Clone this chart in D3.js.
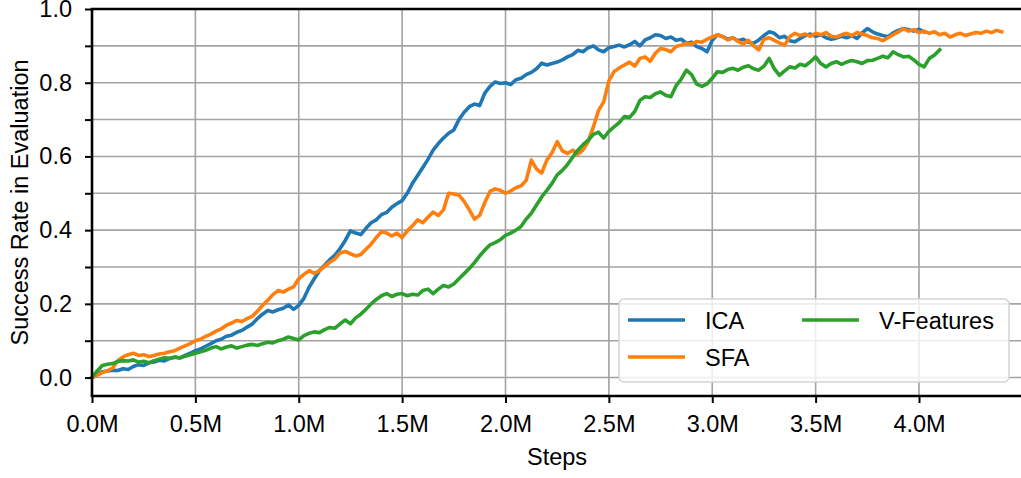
<!DOCTYPE html>
<html>
<head>
<meta charset="utf-8">
<script src="https://cdn.jsdelivr.net/npm/d3@7"></script>
<style>
  html, body { margin: 0; padding: 0; background: #fff; }
  svg { display: block; font-family: "Liberation Sans", Arial, Helvetica, sans-serif; }
</style>
</head>
<body>
<svg id="chart" width="1021" height="478"></svg>
<script>
// Evaluation logged every 25k environment steps
const logInterval = 25000;

const seriesNames = ["ICA", "SFA", "V-Features"];
const seriesColors = ["#1f77b4", "#ff7f0e", "#2ca02c"];

const icaValues = [
  0.000, 0.008, 0.016, 0.018, 0.020, 0.019, 0.024, 0.022, 0.030, 0.035,
  0.033, 0.040, 0.042, 0.047, 0.045, 0.052, 0.055, 0.053, 0.060, 0.066,
  0.073, 0.078, 0.085, 0.092, 0.100, 0.104, 0.112, 0.115, 0.123, 0.128,
  0.137, 0.145, 0.160, 0.172, 0.182, 0.178, 0.184, 0.188, 0.197, 0.185,
  0.196, 0.215, 0.245, 0.268, 0.290, 0.305, 0.320, 0.332, 0.350, 0.372,
  0.398, 0.392, 0.388, 0.405, 0.420, 0.428, 0.442, 0.448, 0.462, 0.472,
  0.480, 0.500, 0.527, 0.548, 0.570, 0.592, 0.617, 0.635, 0.650, 0.663,
  0.672, 0.700, 0.720, 0.735, 0.742, 0.738, 0.772, 0.790, 0.802, 0.798,
  0.800, 0.795, 0.808, 0.812, 0.822, 0.828, 0.838, 0.853, 0.848, 0.852,
  0.856, 0.862, 0.870, 0.876, 0.888, 0.884, 0.895, 0.900, 0.889, 0.884,
  0.895, 0.898, 0.902, 0.897, 0.903, 0.912, 0.900, 0.916, 0.922, 0.930,
  0.928, 0.920, 0.924, 0.915, 0.918, 0.907, 0.910, 0.898, 0.893, 0.884,
  0.915, 0.930, 0.925, 0.918, 0.922, 0.914, 0.918, 0.910, 0.907, 0.916,
  0.928, 0.938, 0.934, 0.922, 0.926, 0.914, 0.911, 0.920, 0.928, 0.932,
  0.926, 0.930, 0.922, 0.918, 0.921, 0.926, 0.922, 0.928, 0.920, 0.935,
  0.947, 0.938, 0.932, 0.928, 0.925, 0.935, 0.942, 0.947, 0.944, 0.940,
  0.945, 0.938
];

const sfaValues = [
  0.000, 0.006, 0.014, 0.018, 0.026, 0.046, 0.056, 0.062, 0.066, 0.060,
  0.062, 0.057, 0.060, 0.064, 0.066, 0.070, 0.073, 0.080, 0.086, 0.092,
  0.100, 0.104, 0.112, 0.118, 0.126, 0.132, 0.142, 0.148, 0.155, 0.152,
  0.160, 0.166, 0.180, 0.196, 0.210, 0.225, 0.236, 0.232, 0.240, 0.246,
  0.268, 0.280, 0.290, 0.283, 0.290, 0.302, 0.313, 0.322, 0.338, 0.342,
  0.336, 0.330, 0.334, 0.348, 0.362, 0.380, 0.396, 0.392, 0.384, 0.392,
  0.380, 0.398, 0.412, 0.428, 0.420, 0.435, 0.449, 0.440, 0.455, 0.500,
  0.498, 0.495, 0.478, 0.455, 0.430, 0.440, 0.475, 0.505, 0.512, 0.508,
  0.500, 0.506, 0.515, 0.520, 0.535, 0.590, 0.566, 0.555, 0.590, 0.610,
  0.640, 0.615, 0.608, 0.617, 0.606, 0.618, 0.640, 0.680, 0.725, 0.748,
  0.805, 0.830, 0.840, 0.848, 0.856, 0.845, 0.866, 0.870, 0.858, 0.880,
  0.893, 0.890, 0.884, 0.898, 0.902, 0.907, 0.904, 0.912, 0.910, 0.918,
  0.924, 0.930, 0.925, 0.916, 0.922, 0.912, 0.905, 0.915, 0.900, 0.889,
  0.918, 0.922, 0.915, 0.908, 0.902, 0.925, 0.934, 0.928, 0.932, 0.926,
  0.934, 0.930, 0.936, 0.926, 0.924, 0.930, 0.934, 0.928, 0.936, 0.932,
  0.928, 0.922, 0.920, 0.914, 0.922, 0.930, 0.938, 0.946, 0.940, 0.944,
  0.936, 0.940, 0.934, 0.938, 0.930, 0.934, 0.924, 0.930, 0.934, 0.928,
  0.932, 0.936, 0.934, 0.940, 0.936, 0.942, 0.938
];

const vFeaturesValues = [
  0.000, 0.018, 0.033, 0.036, 0.038, 0.044, 0.046, 0.045, 0.048, 0.042,
  0.044, 0.040, 0.046, 0.050, 0.054, 0.052, 0.056, 0.054, 0.058, 0.062,
  0.066, 0.070, 0.074, 0.080, 0.084, 0.078, 0.083, 0.086, 0.080, 0.084,
  0.088, 0.090, 0.087, 0.092, 0.096, 0.094, 0.100, 0.104, 0.110, 0.106,
  0.102, 0.114, 0.120, 0.124, 0.122, 0.130, 0.136, 0.134, 0.146, 0.156,
  0.146, 0.162, 0.172, 0.185, 0.200, 0.212, 0.222, 0.228, 0.220, 0.226,
  0.228, 0.222, 0.226, 0.224, 0.236, 0.240, 0.228, 0.240, 0.250, 0.246,
  0.254, 0.268, 0.282, 0.296, 0.312, 0.330, 0.346, 0.360, 0.366, 0.374,
  0.386, 0.392, 0.400, 0.410, 0.430, 0.446, 0.468, 0.490, 0.508, 0.527,
  0.550, 0.562, 0.578, 0.598, 0.617, 0.632, 0.644, 0.660, 0.666, 0.650,
  0.668, 0.680, 0.692, 0.708, 0.706, 0.722, 0.752, 0.762, 0.760, 0.770,
  0.775, 0.766, 0.762, 0.792, 0.810, 0.834, 0.822, 0.796, 0.790, 0.797,
  0.812, 0.830, 0.828, 0.836, 0.839, 0.834, 0.842, 0.846, 0.838, 0.834,
  0.845, 0.866, 0.838, 0.820, 0.832, 0.843, 0.840, 0.850, 0.846, 0.857,
  0.870, 0.852, 0.843, 0.852, 0.857, 0.850, 0.856, 0.860, 0.857, 0.852,
  0.860, 0.861, 0.866, 0.872, 0.868, 0.884, 0.876, 0.870, 0.872, 0.862,
  0.850, 0.843, 0.866, 0.875, 0.889
];

const xTickValues = [0, 500000, 1000000, 1500000, 2000000, 2500000, 3000000, 3500000, 4000000];
const yMajorTicks = [0.0, 0.2, 0.4, 0.6, 0.8, 1.0];
const yMinorTicks = [0.1, 0.3, 0.5, 0.7, 0.9];

const allSeries = [icaValues, sfaValues, vFeaturesValues].map((vals, k) => ({
  name: seriesNames[k],
  color: seriesColors[k],
  points: vals.map((v, i) => ({ step: i * logInterval, value: v }))
}));

const svg = d3.select("#chart");
const plotLeft = 92, plotTop = 9, plotBottom = 396;
const pxPerMillion = 206.75;
const xMax = 4.55e6;
const fontSize = 23.5;

const x = d3.scaleLinear().domain([0, xMax]).range([plotLeft, plotLeft + pxPerMillion * xMax / 1e6]);
const y = d3.scaleLinear().domain([-0.05, 1.0]).range([plotBottom, plotTop]);

const gridColor = "#a3a3a3";
const plotRight = x(xMax);

// grid
const grid = svg.append("g");
grid.selectAll("line.gy")
  .data(yMajorTicks.concat(yMinorTicks))
  .join("line")
  .attr("class", "gy")
  .attr("x1", plotLeft).attr("x2", plotRight)
  .attr("y1", d => y(d)).attr("y2", d => y(d))
  .attr("stroke", gridColor).attr("stroke-width", 1.6);
grid.selectAll("line.gx")
  .data(xTickValues.slice(1))
  .join("line")
  .attr("class", "gx")
  .attr("x1", d => x(d)).attr("x2", d => x(d))
  .attr("y1", plotTop).attr("y2", plotBottom)
  .attr("stroke", gridColor).attr("stroke-width", 1.6);

// series lines
const line = d3.line().x(d => x(d.step)).y(d => y(d.value));
svg.append("g").selectAll("path")
  .data(allSeries)
  .join("path")
  .attr("d", d => line(d.points))
  .attr("fill", "none")
  .attr("stroke", d => d.color)
  .attr("stroke-width", 3.6)
  .attr("stroke-linejoin", "round")
  .attr("stroke-linecap", "square");

// axes
const fmtM = d => (d / 1e6).toFixed(1) + "M";
const xAxis = svg.append("g")
  .attr("transform", `translate(0,${plotBottom})`)
  .call(d3.axisBottom(x).tickValues(xTickValues).tickFormat(fmtM).tickSizeOuter(0).tickSize(7).tickPadding(12));
const yAxis = svg.append("g")
  .attr("transform", `translate(${plotLeft},0)`)
  .call(d3.axisLeft(y).tickValues(yMajorTicks).tickFormat(d3.format(".1f")).tickSizeOuter(0).tickSize(7).tickPadding(13));
const yMinor = svg.append("g")
  .attr("transform", `translate(${plotLeft},0)`)
  .call(d3.axisLeft(y).tickValues(yMinorTicks).tickFormat("").tickSizeOuter(0).tickSize(7));
yMinor.select(".domain").remove();

[xAxis, yAxis, yMinor].forEach(g => {
  g.selectAll("text").attr("font-size", fontSize).attr("fill", "#000")
    .attr("font-family", "'Liberation Sans', Arial, sans-serif");
  g.selectAll(".tick line").attr("stroke", "#000").attr("stroke-width", 2);
});
xAxis.select(".domain").attr("stroke", "#000").attr("stroke-width", 2.6)
  .attr("d", `M${plotLeft - 1.3},0H${plotRight}`);
yAxis.select(".domain").attr("stroke", "#000").attr("stroke-width", 2.6)
  .attr("d", `M0,${plotBottom}V${plotTop}`);

// top spine
svg.append("line")
  .attr("x1", plotLeft - 1.3).attr("x2", plotRight)
  .attr("y1", plotTop).attr("y2", plotTop)
  .attr("stroke", "#000").attr("stroke-width", 2.6);

// axis titles
svg.append("text")
  .attr("x", 557).attr("y", 465)
  .attr("text-anchor", "middle").attr("font-size", fontSize)
  .text("Steps");
svg.append("text")
  .attr("transform", `translate(28,${(plotTop + plotBottom) / 2}) rotate(-90)`)
  .attr("text-anchor", "middle").attr("font-size", fontSize)
  .text("Success Rate in Evaluation");

// legend
const legend = svg.append("g").attr("transform", "translate(619,299)");
legend.append("rect")
  .attr("width", 390).attr("height", 83).attr("rx", 5)
  .attr("fill", "rgba(255,255,255,0.8)")
  .attr("stroke", "#d4d4d4").attr("stroke-width", 1.5);
const legendPos = [[9, 21], [9, 58], [183, 21]];
allSeries.forEach((s, k) => {
  const [lx, ly] = legendPos[k];
  legend.append("line")
    .attr("x1", lx).attr("x2", lx + 57).attr("y1", ly).attr("y2", ly)
    .attr("stroke", s.color).attr("stroke-width", 3.6);
  legend.append("text")
    .attr("x", lx + 77).attr("y", ly + 8.5)
    .attr("font-size", fontSize)
    .text(s.name);
});
</script>
</body>
</html>
